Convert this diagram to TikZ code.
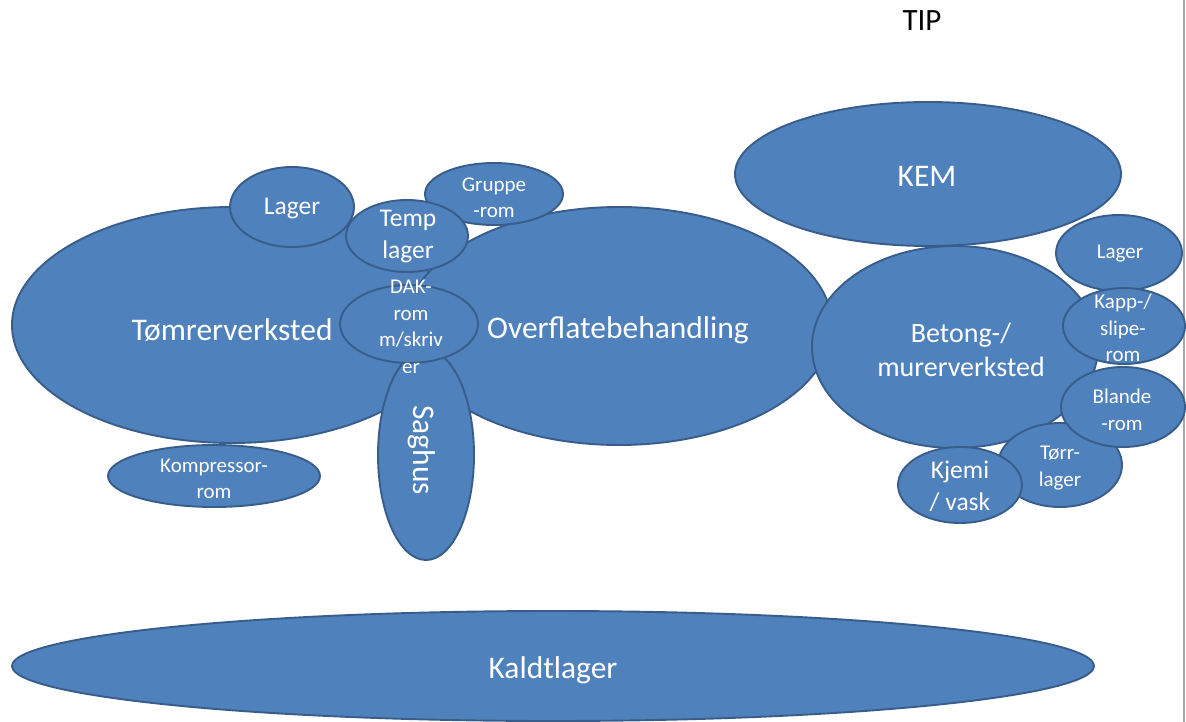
\documentclass[tikz,border=0pt]{standalone}
\usepackage{fontspec}
\setmainfont{Carlito}
\usetikzlibrary{shapes.geometric}
\definecolor{roomfill}{HTML}{4F81BD}
\definecolor{roomline}{HTML}{385D8A}
\definecolor{frameline}{HTML}{A6A6A6}
\tikzset{
  room/.style={ellipse, draw=roomline, fill=roomfill, line width=1.9pt, inner sep=0pt},
  lbl/.style={text=white, align=center, inner sep=0pt},
  bigfont/.style={font=\fontsize{31.5}{38}\selectfont},
  bigtxt/.style={lbl, bigfont, yshift=-3pt},
  midtxt/.style={lbl, font=\fontsize{25.5}{32}\selectfont, yshift=-2.5pt},
  betongtxt/.style={lbl, font=\fontsize{28}{34}\selectfont, yshift=-2.5pt},
  smalltxt/.style={lbl, font=\fontsize{21}{26.5}\selectfont, yshift=-2pt},
}
\begin{document}
\begin{tikzpicture}[x=1pt,y=-1pt]
\useasboundingbox (0,0) rectangle (1186,722);

% page edge and title
\draw[frameline, line width=1.2pt] (1184,0) coordinate (edgetop) -- (1184,722) coordinate (edgebot);
\node[font=\fontsize{31}{38}\selectfont, inner sep=0pt] (tip) at (922,21) {TIP};

% cold storage
\node[room, minimum width=1082pt, minimum height=110pt] (kald) at (553,666) {};
\node[bigtxt] (kald-t) at (553,667) {Kaldtlager};

% carpentry cluster
\node[room, minimum width=440pt, minimum height=236pt] (tomrer) at (232,325) {};
\node[bigtxt] (tomrer-t) at (232,327) {Tømrerverksted};

\node[room, minimum width=426pt, minimum height=238pt] (overflate) at (619,326) {};
\node[bigtxt] (overflate-t) at (618,327) {Overflatebehandling};

\node[room, minimum width=212pt, minimum height=62pt] (kompressor) at (214,476) {};
\node[smalltxt] (kompressor-t) at (214,477) {Kompressor-\\rom};

\node[room, minimum width=124pt, minimum height=80pt] (lagerv) at (292,207) {};
\node[midtxt] (lagerv-t) at (292,206) {Lager};

\node[room, minimum width=138pt, minimum height=62pt] (gruppe) at (494,194) {};
\node[smalltxt] (gruppe-t) at (494,196) {Gruppe\\-rom};

\node[room, minimum width=122pt, minimum height=72pt] (temp) at (407,236) {};
\node[midtxt] (temp-t) at (408,234) {Temp\\lager};

\node[room, minimum width=96pt, minimum height=210pt] (saghus) at (426,455) {};
\node[lbl, bigfont, rotate=-90] (saghus-t) at (422,450) {Saghus};

\node[room, minimum width=138pt, minimum height=78pt] (dak) at (409,324) {};
\node[smalltxt] (dak-t) at (411,325) {DAK-\\rom\\m/skriv\\er};

% concrete / masonry cluster
\node[room, minimum width=286pt, minimum height=202pt] (betong) at (955,347) {};
\node[betongtxt] (betong-t) at (961,347) {Betong-/\\murerverksted};

\node[room, minimum width=386pt, minimum height=144pt] (kem) at (928,174) {};
\node[bigtxt] (kem-t) at (927,173) {KEM};

\node[room, minimum width=126pt, minimum height=76pt] (lagerh) at (1119,253) {};
\node[smalltxt] (lagerh-t) at (1120,252) {Lager};

\node[room, minimum width=122pt, minimum height=76pt] (kapp) at (1124,326) {};
\node[smalltxt] (kapp-t) at (1123,326) {Kapp-/\\slipe-\\rom};

\node[room, minimum width=124pt, minimum height=84pt] (torr) at (1060,465) {};
\node[smalltxt] (torr-t) at (1060,466) {Tørr-\\lager};

\node[room, minimum width=124pt, minimum height=80pt] (blande) at (1123,407) {};
\node[smalltxt] (blande-t) at (1122,408) {Blande\\-rom};

\node[room, minimum width=124pt, minimum height=76pt] (kjemi) at (960,485) {};
\node[midtxt] (kjemi-t) at (960,484) {Kjemi\\/ vask};
\end{tikzpicture}
\end{document}
